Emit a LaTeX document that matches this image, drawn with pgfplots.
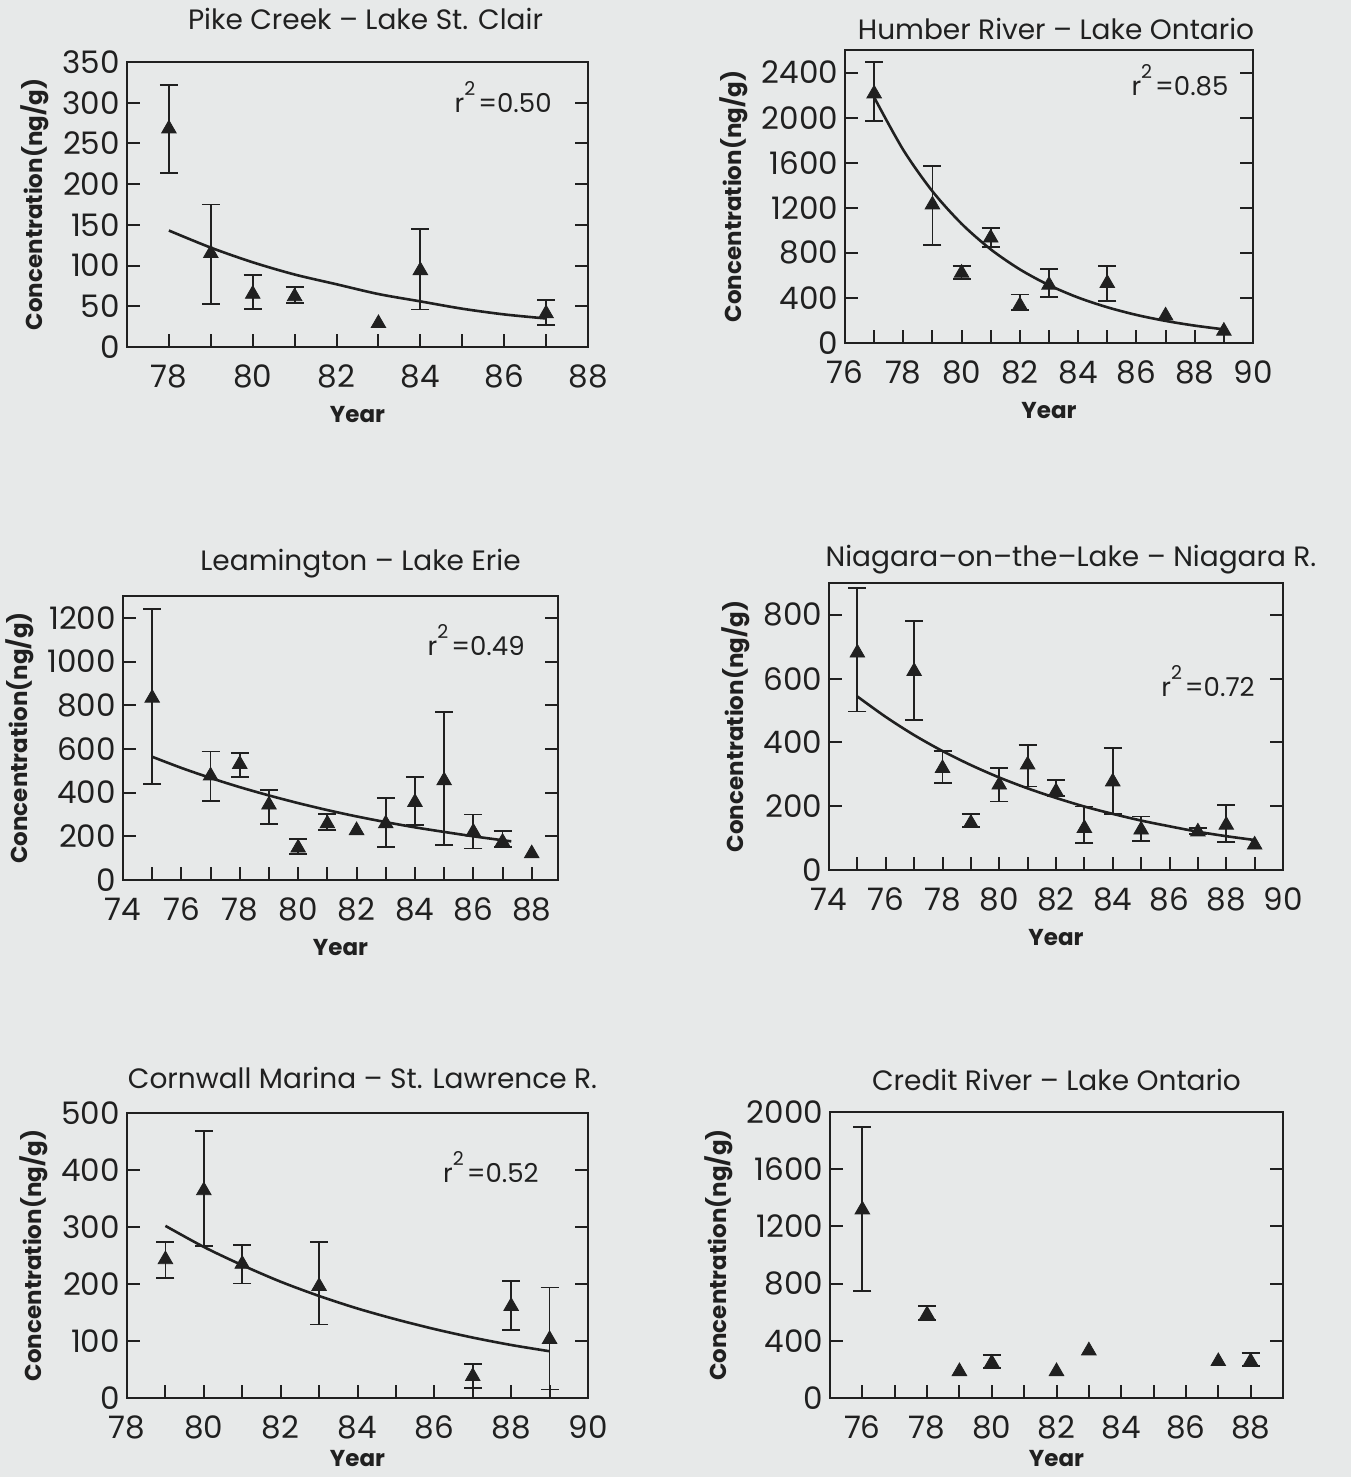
\documentclass[border=0pt]{standalone}
\usepackage{pgfplots}
\pgfplotsset{compat=1.18}
\usepackage{fontspec}
\setmainfont{Poppins}
\definecolor{ink}{RGB}{32,32,32}
\definecolor{bgc}{RGB}{231,233,233}
\pgfplotsset{
  panel/.style={
    scale only axis,
    axis line style={ink, line width=1pt},
    every tick/.style={ink, line width=1pt},
    major tick length=6.5pt,
    minor tick length=6.5pt,
    tick align=inside,
    xtick pos=left,
    ytick pos=both,
    /pgf/number format/assume math mode=true,
    /pgf/number format/1000 sep={},
    ticklabel style={font=\fontsize{15.5}{15.5}\selectfont, text=ink},
    xticklabel style={yshift=-5.5pt},
    xlabel={Year},
    ylabel={Concentration(ng/g)},
    label style={font=\bfseries\fontsize{11.5}{11.5}\selectfont, text=ink},
    title style={font=\fontsize{14}{14}\selectfont, text=ink, at={(axis description cs:0.5,1)}, anchor=base},
    clip=false,
  },
  pts/.style={only marks, mark=triangle*, mark size=4.2pt, ink,
    mark options={fill=ink, draw=ink},
    error bars/.cd, y dir=both, y explicit,
    error bar style={line width=0.9pt, ink},
    error mark options={rotate=90, mark size=4.5pt, line width=0.9pt, ink}},
  pts0/.style={only marks, mark=triangle*, mark size=4.2pt, ink, mark options={fill=ink, draw=ink}},
  fit/.style={no marks, smooth, ink, line width=1.3pt},
}
\newcommand{\rsq}[1]{\fontsize{13}{13}\selectfont r\raisebox{1.2ex}{\fontsize{9.5}{9.5}\selectfont 2}\hspace{1.5pt}=#1}
\begin{document}
\begin{tikzpicture}
\fill[bgc] (0,0) rectangle (675.5pt,738.5pt);

% Panel 1: Pike Creek
\begin{axis}[panel, at={(63.5pt,565pt)}, anchor=south west, width=230.5pt, height=142.5pt,
  xmin=77, xmax=88, ymin=0, ymax=350,
  xtick={78,80,...,88}, minor xtick={79,81,...,87},
  ytick={0,50,...,350}, xlabel style={yshift=-2pt},
  title={Pike Creek -- Lake St. Clair}, title style={yshift=10pt, xshift=4pt}]
\addplot[pts] table[x=x, y=y, y error plus=ep, y error minus=em] {
x y ep em
78 268 54 54
79 115 60 62
80 65 23 18
81 62 12 8
84 94 51 48
87 41 17 14
};
\addplot[pts0] coordinates {(83,29)};
\addplot[fit] coordinates {(78,143) (79,122) (80,104) (81,89) (82,77) (83,65) (84,56) (85,47) (86,40) (87,35)};
\node[anchor=east, text=ink] at (axis cs:87.3,307) {\rsq{0.50}};
\end{axis}

% Panel 2: Humber River
\begin{axis}[panel, at={(422.5pt,567pt)}, anchor=south west, width=204pt, height=146.5pt,
  xmin=76, xmax=90, ymin=0, ymax=2600,
  xtick={76,78,...,90}, minor xtick={77,79,...,89},
  ytick={0,400,...,2400}, xlabel style={yshift=-2pt},
  title={Humber River -- Lake Ontario}, title style={yshift=-1pt, xshift=3.5pt}]
\addplot[pts] table[x=x, y=y, y error plus=ep, y error minus=em] {
x y ep em
77 2212 279 242
79 1227 343 354
80 621 61 55
81 933 88 80
82 333 97 40
83 515 145 106
85 530 152 160
};
\addplot[pts0] coordinates {(87,242) (89,106)};
\addplot[fit] coordinates {(77,2180) (78,1713) (79,1346) (80,1058) (81,831) (82,653) (83,513) (84,403) (85,317) (86,249) (87,196) (88,154) (89,121)};
\node[anchor=east, text=ink] at (axis cs:89.4,2330) {\rsq{0.85}};
\end{axis}

% Panel 3: Leamington
\begin{axis}[panel, at={(61.5pt,298.5pt)}, anchor=south west, width=217.5pt, height=142pt,
  xmin=74, xmax=88.9, ymin=0, ymax=1300,
  xtick={74,76,...,88}, minor xtick={75,77,...,87},
  ytick={0,200,...,1200}, xlabel style={yshift=-2pt},
  title={Leamington -- Lake Erie}, title style={yshift=6.5pt, xshift=10pt}]
\addplot[pts] table[x=x, y=y, y error plus=ep, y error minus=em] {
x y ep em
75 833 409 394
77 477 111 116
78 530 52 60
79 344 68 86
80 147 39 27
81 258 45 28
83 258 116 106
84 356 117 106
85 455 315 296
86 220 80 76
87 174 49 22
};
\addplot[pts0] coordinates {(82,227) (88,121)};
\addplot[fit] coordinates {(75,564) (76,513) (77,467) (78,425) (79,387) (80,352) (81,320) (82,291) (83,265) (84,241) (85,220) (86,200) (87,182) (87.3,177)};
\node[anchor=east, text=ink] at (axis cs:88,1098) {\rsq{0.49}};
\end{axis}

% Panel 4: Niagara-on-the-Lake
\begin{axis}[panel, at={(414.5pt,303.5pt)}, anchor=south west, width=227pt, height=143.5pt,
  xmin=74, xmax=90, ymin=0, ymax=900,
  xtick={74,76,...,90}, minor xtick={75,77,...,89},
  ytick={0,200,...,800}, xlabel style={yshift=-2pt},
  title={Niagara--on--the--Lake -- Niagara R.}, title style={yshift=2pt, xshift=7.5pt}]
\addplot[pts] table[x=x, y=y, y error plus=ep, y error minus=em] {
x y ep em
75 681 204 184
77 623 157 152
78 319 53 47
79 147 28 12
80 267 52 52
81 330 63 68
82 246 35 15
83 131 68 47
84 277 105 102
85 126 42 35
87 120 12 8
88 141 63 52
};
\addplot[pts0] coordinates {(89,79)};
\addplot[fit] coordinates {(75,544) (76,480) (77,423) (78,373) (79,329) (80,290) (81,256) (82,226) (83,199) (84,176) (85,155) (86,137) (87,120) (88,106) (89,94)};
\node[anchor=east, text=ink] at (axis cs:89.25,592) {\rsq{0.72}};
\end{axis}

% Panel 5: Cornwall Marina
\begin{axis}[panel, at={(63.5pt,39.5pt)}, anchor=south west, width=230.5pt, height=142.5pt,
  xmin=78, xmax=90, ymin=0, ymax=500,
  xtick={78,80,...,90}, minor xtick={79,81,...,89},
  ytick={0,100,...,500}, xlabel style={yshift=1.5pt},
  title={Cornwall Marina -- St. Lawrence R.}, title style={yshift=6.5pt, xshift=2.5pt}]
\addplot[pts] table[x=x, y=y, y error plus=ep, y error minus=em] {
x y ep em
79 243 31 32
80 364 105 97
81 235 33 34
83 196 77 67
87 38 21 20
88 161 44 41
89 103 91 88
};
\addplot[fit] coordinates {(79,302) (80,265) (81,233) (82,204) (83,179) (84,157) (85,138) (86,121) (87,106) (88,93) (89,82)};
\node[anchor=east, text=ink] at (axis cs:88.9,405) {\rsq{0.52}};
\end{axis}

% Panel 6: Credit River
\begin{axis}[panel, at={(415pt,39.5pt)}, anchor=south west, width=226.5pt, height=143pt,
  xmin=75, xmax=89, ymin=0, ymax=2000,
  xtick={76,78,...,88}, minor xtick={77,79,...,87},
  ytick={0,400,...,2000}, xlabel style={yshift=1.5pt},
  title={Credit River -- Lake Ontario}, title style={yshift=4.5pt}]
\addplot[pts] table[x=x, y=y, y error plus=ep, y error minus=em] {
x y ep em
76 1317 578 571
78 583 63 40
80 245 53 35
88 256 59 30
};
\addplot[pts0] coordinates {(79,186) (82,186) (83,331) (87,256)};
\end{axis}

\pgfresetboundingbox
\path (0,0) rectangle (675.5pt,738.5pt);
\end{tikzpicture}
\end{document}
